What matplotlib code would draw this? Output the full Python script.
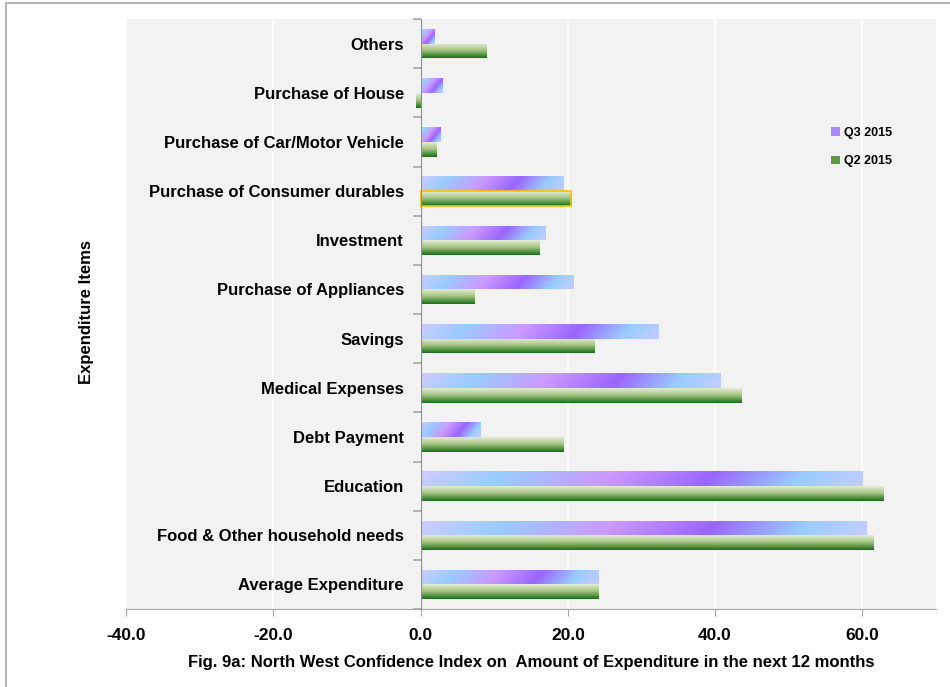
import numpy as np
import matplotlib
matplotlib.use("Agg")
import matplotlib.pyplot as plt
from matplotlib.colors import LinearSegmentedColormap
from matplotlib.patches import Patch, Rectangle
from matplotlib.lines import Line2D

# expenditure items, bottom to top
items = ["Average Expenditure", "Food & Other household needs", "Education",
         "Debt Payment", "Medical Expenses", "Savings", "Purchase of Appliances",
         "Investment", "Purchase of Consumer durables", "Purchase of Car/Motor Vehicle",
         "Purchase of House", "Others"]

q3_2015 = [24.1, 60.5, 59.9, 8.1, 40.7, 32.2, 20.7, 16.9, 19.3, 2.7, 2.9, 1.8]
q2_2015 = [24.1, 61.4, 62.8, 19.3, 43.5, 23.5, 7.3, 16.1, 20.4, 2.1, -0.6, 8.9]

x_ticks = [-40, -20, 0, 20, 40, 60]

plt.rcParams['font.family'] = ['Liberation Sans', 'DejaVu Sans']
plt.rcParams['font.weight'] = 'bold'

q3_cmap = LinearSegmentedColormap.from_list(
    "q3", [(0.0, "#CCCCFF"), (0.18, "#99CCFF"), (0.42, "#CC99FF"),
           (0.65, "#9966FF"), (0.85, "#99CCFF"), (1.0, "#C4CCFF")])
q2_cmap = LinearSegmentedColormap.from_list(
    "q2", [(0.0, "#E2ECD4"), (0.45, "#A9C687"), (1.0, "#1B701B")])

fig = plt.figure(figsize=(9.5, 6.87), dpi=100, facecolor='white')
ax = fig.add_axes([0.1326, 0.1135, 0.8527, 0.8588])
ax.set_facecolor("#F2F2F2")

# page border
fig.add_artist(Line2D([0.006, 1.0], [0.995, 0.995], transform=fig.transFigure,
                      color="#B5B5B5", lw=1.5))
fig.add_artist(Line2D([0.006, 0.006], [0.0, 0.995], transform=fig.transFigure,
                      color="#B5B5B5", lw=1.5))

y = np.arange(len(items))
h = 0.3
xmin, xmax = -40, 70
ax.set_xlim(xmin, xmax)
ax.set_ylim(-0.5, len(items) - 0.5)

bars_q3 = ax.barh(y + h / 2, q3_2015, height=h, color='none', zorder=3)
bars_q2 = ax.barh(y - h / 2, q2_2015, height=h, color='none', zorder=3)

# diagonal gradient for Q3, vertical gradient for Q2
px_per_unit = 0.8527 * 950 / (xmax - xmin)
bar_px = h * 0.8588 * 687 / len(items)
for bar in bars_q3:
    x0, y0, w, hh = bar.get_x(), bar.get_y(), bar.get_width(), bar.get_height()
    L = abs(w) * px_per_unit
    xs = np.linspace(0, 1, 200)
    ys = np.linspace(0, 1, 20)
    X, Y = np.meshgrid(xs, ys)
    t = (X * L + (1 - Y) * bar_px * 0.8) / (L + bar_px * 0.8)
    im = ax.imshow(t, cmap=q3_cmap, extent=[x0, x0 + w, y0, y0 + hh], origin='lower',
                   aspect='auto', zorder=3, interpolation='bilinear')
    im.set_clip_path(bar)
for bar in bars_q2:
    x0, y0, w, hh = bar.get_x(), bar.get_y(), bar.get_width(), bar.get_height()
    t = np.linspace(1, 0, 40).reshape(-1, 1) * np.ones((1, 2))
    im = ax.imshow(t, cmap=q2_cmap, extent=[x0, x0 + w, y0, y0 + hh], origin='lower',
                   aspect='auto', zorder=3, interpolation='bilinear')
    im.set_clip_path(bar)

# highlighted outline on the consumer durables bar
cd = bars_q2[8]
ax.add_patch(Rectangle((cd.get_x(), cd.get_y()), cd.get_width(), cd.get_height(),
                       fill=False, edgecolor="#FFC000", lw=1.2, zorder=4))

# axes styling
ax.grid(axis='x', color='white', lw=1.2, zorder=1)
ax.set_axisbelow(True)
for s in ['top', 'right']:
    ax.spines[s].set_visible(False)
ax.spines['left'].set_position(('data', 0))
ax.spines['left'].set_color("#8C8C8C")
ax.spines['left'].set_zorder(5)
ax.spines['bottom'].set_color("#A6A6A6")

ax.set_xticks(x_ticks)
ax.set_xticklabels(["%.1f" % v for v in x_ticks], fontsize=12.5, fontweight='bold')
ax.tick_params(axis='x', length=5, color="#A6A6A6", pad=9)

ax.set_yticks(y)
ax.set_yticklabels(items, fontsize=12, fontweight='bold')
ax.set_yticks(np.arange(len(items) + 1) - 0.5, minor=True)
ax.tick_params(axis='y', which='major', length=0, pad=12)
ax.tick_params(axis='y', which='minor', length=6, color="#A6A6A6", width=1.2)

ax.set_xlabel("Fig. 9a: North West Confidence Index on  Amount of Expenditure in the next 12 months",
              fontsize=12, fontweight='bold', labelpad=8)
fig.text(0.091, 0.546, "Expenditure Items", rotation=90, fontsize=12, fontweight='bold',
         ha='center', va='center')

handles = [Patch(facecolor="#AA88FF", edgecolor='none'),
           Patch(facecolor="#5E9A45", edgecolor='none')]
ax.legend(handles, ["Q3 2015", "Q2 2015"], loc='upper left', bbox_to_anchor=(0.857, 0.836),
          frameon=False, prop={'size': 9, 'weight': 'bold'}, handlelength=0.7,
          handleheight=0.7, handletextpad=0.3, labelspacing=1.3)

fig.savefig("out.png", dpi=100, facecolor='white')
